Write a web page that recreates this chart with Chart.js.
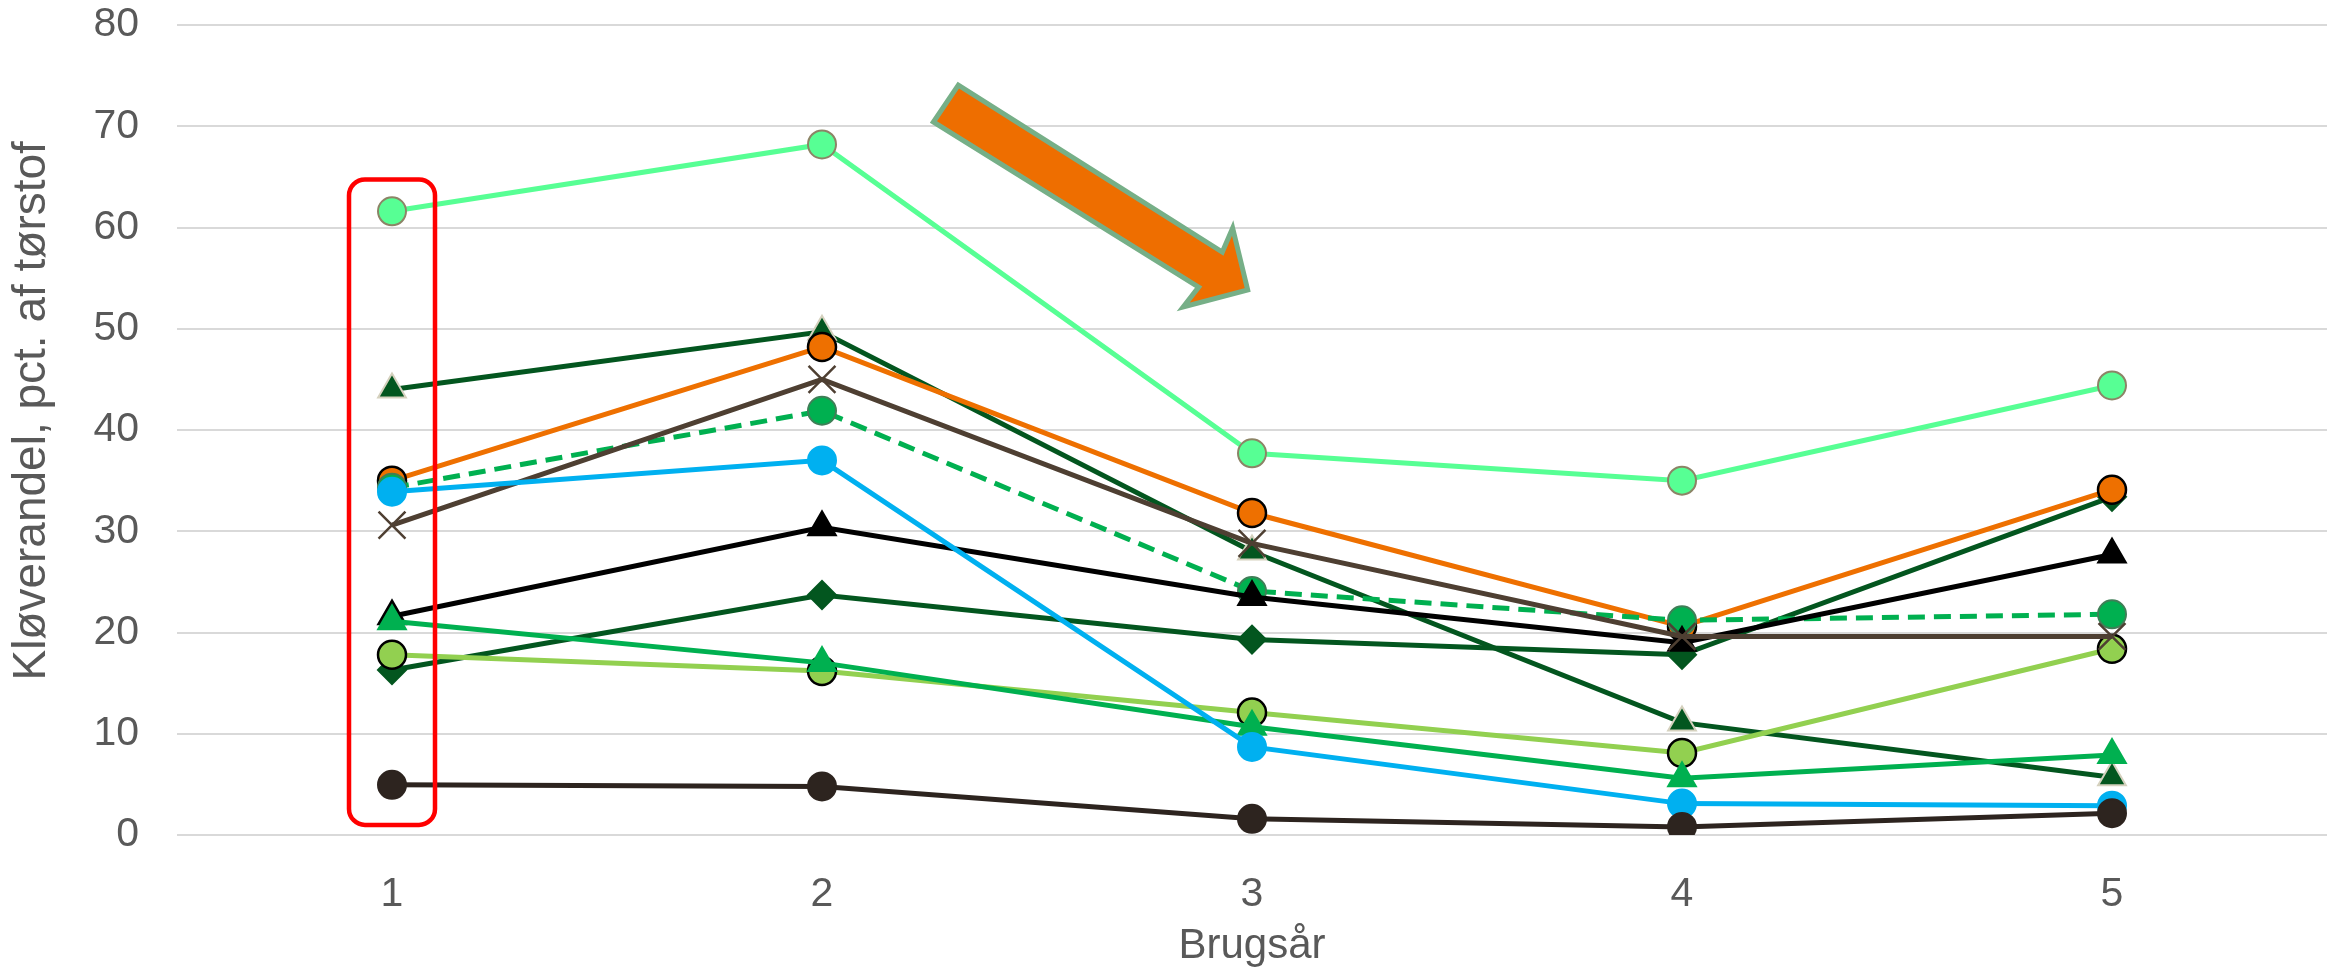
<!DOCTYPE html>
<html>
<head>
<meta charset="utf-8">
<script src="https://cdn.jsdelivr.net/npm/chart.js@4.4.1/dist/chart.umd.min.js"></script>
<style>
  html, body { margin: 0; padding: 0; background: #fff; }
  #wrap { width: 2334px; height: 975px; }
</style>
</head>
<body>
<div id="wrap"><canvas id="chart" width="2334" height="975"></canvas></div>
<script>
// Brugsår (x categories)
const years = ['1', '2', '3', '4', '5'];

// Kløverandel per serie
const mintSeries      = [61.6, 68.2, 37.7, 35.0, 44.4];
const darkTriSeries   = [44.0, 49.7, 28.0, 11.1, 5.7];
const orangeSeries    = [35.0, 48.2, 31.8, 20.6, 34.1];
const dashedSeries    = [34.3, 41.9, 24.1, 21.2, 21.8];
const blueSeries      = [33.9, 37.0, 8.7, 3.1, 2.9];
const brownXSeries    = [30.6, 45.0, 28.8, 19.6, 19.6];
const blackTriSeries  = [21.6, 30.4, 23.5, 19.0, 27.7];
const greenTriSeries  = [21.1, 17.0, 10.7, 5.6, 7.9];
const limeSeries      = [17.8, 16.2, 12.1, 8.1, 18.4];
const diamondSeries   = [16.3, 23.7, 19.3, 17.8, 33.4];
const darkBrownSeries = [4.96, 4.8, 1.6, 0.8, 2.15];

// y axis range
const yMin = 0;
const yMax = 80;
const yStep = 10;

// red frame round year 1, in axis units (category index, value)
const frameBox = { x0: -0.1, x1: 0.1, yTop: 64.75, yBottom: 1.0 };

// orange arrow outline, in axis units (category index, value)
const arrowShape = [
    [1.317, 74.07], [1.931, 57.58], [1.955, 59.95], [1.990, 53.83],
    [1.840, 52.15], [1.876, 54.12], [1.259, 70.42]
];

const textColor = '#595959';
const fontFamily = '"Liberation Sans", Arial, sans-serif';

function makeSeries(data, color, opts = {}) {
    return Object.assign({
        data,
        borderColor: color,
        backgroundColor: color,
        borderWidth: 5,
        pointStyle: 'circle',
        pointRadius: 14,
        pointBackgroundColor: color,
        pointBorderColor: color,
        pointBorderWidth: 2,
        tension: 0
    }, opts);
}

// listed bottom to top, reversed later so the last one lands on top
const seriesBottomToTop = [
    makeSeries(mintSeries, '#57FF94', { pointBorderColor: '#8C8466' }),
    makeSeries(darkTriSeries, '#03561F', { pointStyle: 'triangle', pointRadius: 16, pointBorderColor: '#D5D1BE' }),
    makeSeries(diamondSeries, '#03561F', { pointStyle: 'rectRot', pointRadius: 14 }),
    makeSeries(orangeSeries, '#EE7000', { pointBorderColor: '#000000', pointBorderWidth: 2.5 }),
    makeSeries(dashedSeries, '#00B050', { borderDash: [17, 9], pointBorderColor: '#3F7F57' }),
    makeSeries(blackTriSeries, '#000000', { pointStyle: 'triangle', pointRadius: 16 }),
    makeSeries(limeSeries, '#92D050', { pointBorderColor: '#000000', pointBorderWidth: 2.5 }),
    makeSeries(greenTriSeries, '#00B050', { pointStyle: 'triangle', pointRadius: 16 }),
    makeSeries(brownXSeries, '#4E3F32', { pointStyle: 'crossRot', pointRadius: 19, pointBorderWidth: 2.5 }),
    makeSeries(blueSeries, '#00B0F0', { pointRadius: 14 }),
    makeSeries(darkBrownSeries, '#2D241F', { pointRadius: 14 })
];

const overlayPlugin = {
    id: 'overlay',
    afterDatasetsDraw(chart) {
        const { ctx, scales: { x, y } } = chart;
        ctx.save();

        // red rounded frame
        const left = x.getPixelForValue(frameBox.x0);
        const right = x.getPixelForValue(frameBox.x1);
        const top = y.getPixelForValue(frameBox.yTop);
        const bottom = y.getPixelForValue(frameBox.yBottom);
        ctx.beginPath();
        ctx.roundRect(left, top, right - left, bottom - top, 16);
        ctx.lineWidth = 4.5;
        ctx.strokeStyle = '#FF0000';
        ctx.stroke();

        // arrow
        ctx.beginPath();
        arrowShape.forEach(([i, v], n) => {
            const px = x.getPixelForValue(i);
            const py = y.getPixelForValue(v);
            if (n === 0) ctx.moveTo(px, py); else ctx.lineTo(px, py);
        });
        ctx.closePath();
        ctx.fillStyle = '#EE6E00';
        ctx.fill();
        ctx.lineJoin = 'miter';
        ctx.lineWidth = 5;
        ctx.strokeStyle = '#76AF87';
        ctx.stroke();

        ctx.restore();
    }
};

new Chart(document.getElementById('chart'), {
    type: 'line',
    data: {
        labels: years,
        datasets: seriesBottomToTop.slice().reverse()
    },
    options: {
        responsive: false,
        devicePixelRatio: 1,
        animation: false,
        layout: { autoPadding: false, padding: { top: 25, right: 7, left: 0, bottom: 0 } },
        plugins: {
            legend: { display: false },
            tooltip: { enabled: false }
        },
        scales: {
            x: {
                offset: true,
                grid: { display: false },
                border: { display: false },
                ticks: {
                    color: textColor,
                    padding: 27,
                    font: { family: fontFamily, size: 41 }
                },
                title: {
                    display: true,
                    text: 'Brugsår',
                    color: textColor,
                    padding: { top: 0, bottom: 3 },
                    font: { family: fontFamily, size: 42 }
                },
                afterFit: (scale) => {
                    scale.height = 140;
                    scale.paddingLeft = 0;
                    scale.paddingRight = 0;
                }
            },
            y: {
                min: yMin,
                max: yMax,
                ticks: {
                    stepSize: yStep,
                    color: textColor,
                    padding: 38,
                    font: { family: fontFamily, size: 41 }
                },
                grid: { color: '#D9D9D9', lineWidth: 2, drawTicks: false },
                border: { display: false },
                title: {
                    display: true,
                    // leading spaces nudge the centred title a little upward
                    text: '   Kløverandel, pct. af tørstof',
                    color: textColor,
                    padding: { top: 5, bottom: 0 },
                    font: { family: fontFamily, size: 46 }
                },
                afterFit: (scale) => {
                    scale.width = 177;
                    scale.paddingTop = 0;
                    scale.paddingBottom = 0;
                }
            }
        }
    },
    plugins: [overlayPlugin]
});
</script>
</body>
</html>
